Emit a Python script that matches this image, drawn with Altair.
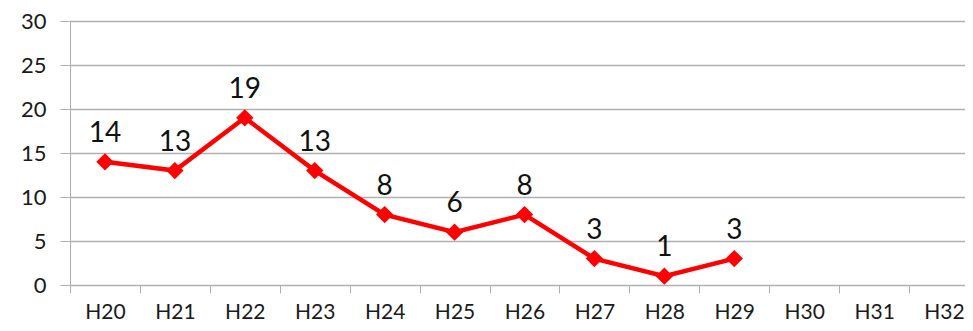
import altair as alt
import pandas as pd

categories = ["H20", "H21", "H22", "H23", "H24", "H25", "H26", "H27", "H28", "H29", "H30", "H31", "H32"]
values = [14, 13, 19, 13, 8, 6, 8, 3, 1, 3]

df = pd.DataFrame({"year": categories[:len(values)], "count": values})

FONT = "Lato"
GRID = "#b0b0b0"

x_enc = alt.X(
    "year:O",
    sort=categories,
    scale=alt.Scale(type="band", domain=categories, paddingInner=0, paddingOuter=0, range=[0, 909]),
    axis=alt.Axis(
        title=None,
        labelAngle=0,
        tickBand="extent",
        domainColor=GRID,
        tickColor=GRID,
        tickSize=8,
        labelFontSize=21,
        labelFont=FONT,
        labelColor="#1a1a1a",
        labelPadding=8,
        grid=False,
    ),
)
y_enc = alt.Y(
    "count:Q",
    scale=alt.Scale(domain=[0, 30]),
    axis=alt.Axis(
        title=None,
        values=[0, 5, 10, 15, 20, 25, 30],
        grid=True,
        gridColor=GRID,
        gridWidth=1.3,
        domainColor=GRID,
        tickColor=GRID,
        tickSize=10,
        labelFontSize=22,
        labelFont=FONT,
        labelColor="#1a1a1a",
        labelPadding=14,
    ),
)

line = alt.Chart(df).mark_line(color="#ff0000", strokeWidth=4.5).encode(x=x_enc, y=y_enc)
pts = alt.Chart(df).mark_point(shape="diamond", filled=True, size=300, color="#ff0000", opacity=1).encode(x=x_enc, y=y_enc)
labels = alt.Chart(df).mark_text(font=FONT, fontSize=28, color="#111111", dy=-28, baseline="middle").encode(
    x=x_enc, y=y_enc, text="count:Q"
)
border = alt.Chart(df).mark_rule(color="#d4d4d4", strokeWidth=1.5).encode(
    x=alt.value(-68), y=alt.value(-13), y2=alt.value(320)
)

chart = (
    alt.layer(border, line, pts, labels)
    .properties(
        width=895,
        height=264,
        autosize=alt.AutoSizeParams(type="none"),
        padding={"left": 62, "top": 13, "right": 0, "bottom": 38},
    )
    .configure_view(stroke=None)
    .configure(background="white")
)

chart.save("out.html", embed_options={"renderer": "svg", "actions": False})
